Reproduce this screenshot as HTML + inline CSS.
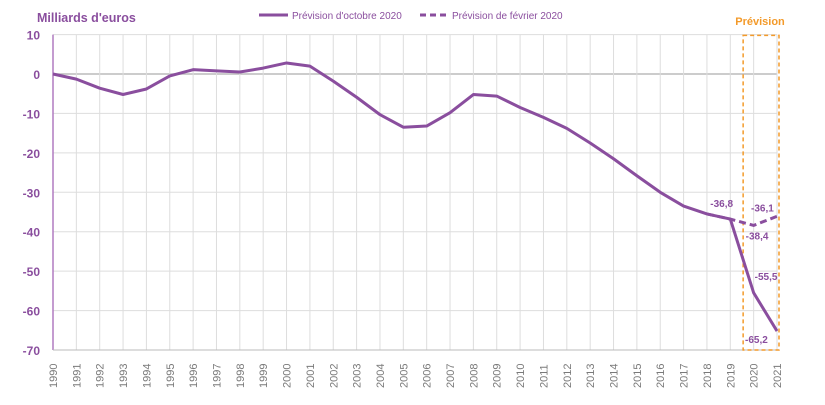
<!DOCTYPE html>
<html><head><meta charset="utf-8"><style>
body{margin:0;background:#fff;font-family:"Liberation Sans",sans-serif}
svg text{font-family:"Liberation Sans",sans-serif}
</style></head><body>
<svg id="chart" width="825" height="400">
<text x="37" y="22" font-size="12.5" font-weight="bold" fill="#8a4e9e">Milliards d'euros</text>
<g>
<line x1="259" y1="15" x2="288" y2="15" stroke="#8a4e9e" stroke-width="3"/>
<text x="292" y="19" font-size="10" fill="#8a4e9e">Prévision d'octobre 2020</text>
<line x1="420" y1="15" x2="447" y2="15" stroke="#8a4e9e" stroke-width="3" stroke-dasharray="6,4"/>
<text x="452" y="19" font-size="10" fill="#8a4e9e">Prévision de février 2020</text>
</g>
<text x="760" y="25" font-size="11" font-weight="bold" fill="#f39a2a" text-anchor="middle">Prévision</text>
<g id="grid"></g><g id="marks"></g>
</svg>
<script>
const years=[1990,1991,1992,1993,1994,1995,1996,1997,1998,1999,2000,2001,2002,2003,2004,2005,2006,2007,2008,2009,2010,2011,2012,2013,2014,2015,2016,2017,2018,2019,2020,2021];
const octValues=[0,-1.3,-3.6,-5.2,-3.8,-0.5,1.1,0.8,0.5,1.5,2.8,2.0,-1.8,-5.9,-10.3,-13.5,-13.2,-9.8,-5.2,-5.6,-8.5,-11.0,-13.8,-17.5,-21.5,-25.8,-30.0,-33.5,-35.5,-36.8,-55.5,-65.2];
const febYears=[2018,2019,2020,2021];
const febValues=[-35.5,-36.8,-38.4,-36.1];
const yTicks=[10,0,-10,-20,-30,-40,-50,-60,-70];
const labelYears=[2019,2020,2020,2021];
const labelValues=[-36.8,-38.4,-55.5,-65.2];
const labelFeb=[2021];const labelFebVals=[-36.1];
const NS="http://www.w3.org/2000/svg";
const X=y=>53+(y-1990)*(777-53)/31;
const Y=v=>74-v*(350-74)/70;
function mk(t,a,p){const e=document.createElementNS(NS,t);for(const k in a)e.setAttribute(k,a[k]);(p||document.getElementById('marks')).appendChild(e);return e;}
const g=document.getElementById('grid');
yTicks.forEach(v=>{
const l=mk('line',{x1:53,x2:777,y1:Y(v),y2:Y(v),stroke:v===0?'#bbb':'#ddd','stroke-width':v===0?1.5:1},g);


const t=mk('text',{x:40,y:Y(v)+5,'font-size':12,'font-weight':'bold',fill:'#8a4e9e','text-anchor':'end'},g);t.textContent=v;


});
years.forEach(y=>{
if(y>1990){const l=mk('line',{x1:X(y),x2:X(y),y1:Y(10),y2:Y(-70),stroke:'#ddd'},g);

}
const t=mk('text',{transform:`translate(${X(y)+4},${388}) rotate(-90)`,'font-size':11,fill:'#7a7a7a'},g);t.textContent=y;


});
const ax=mk('line',{x1:53,x2:53,y1:Y(10),y2:Y(-70),stroke:'#b07cc0','stroke-width':1.5},g);


const ax2=mk('line',{x1:53,x2:777,y1:Y(-70),y2:Y(-70),stroke:'#bbb'},g);


const box=mk('rect',{x:X(2019.55),y:Y(9.8),width:X(2021)+2-X(2019.55),height:Y(-70)-Y(9.8),fill:'none',stroke:'#f39a2a','stroke-width':1.5,'stroke-dasharray':'4,3'});


const fp=mk('polyline',{points:febYears.map((y,i)=>X(y)+','+Y(febValues[i])).join(' '),fill:'none',stroke:'#8a4e9e','stroke-width':3,'stroke-dasharray':'7,4'});


const op=mk('polyline',{points:years.map((y,i)=>X(y)+','+Y(octValues[i])).join(' '),fill:'none',stroke:'#8a4e9e','stroke-width':3,'stroke-linejoin':'round'});


const offs=[[-20,-12],[-8,14],[1,-13],[-32,12]];
labelYears.forEach((y,i)=>{
const t=mk('text',{x:X(y)+offs[i][0],y:Y(labelValues[i])+offs[i][1],'font-size':10,'font-weight':'bold',fill:'#8a4e9e'});
t.textContent=String(labelValues[i]).replace('.',',');


});
labelFeb.forEach((y,i)=>{
const t=mk('text',{x:X(y)-26,y:Y(labelFebVals[i])-5,'font-size':10,'font-weight':'bold',fill:'#8a4e9e'});
t.textContent=String(labelFebVals[i]).replace('.',',');


});
</script>
</body></html>
